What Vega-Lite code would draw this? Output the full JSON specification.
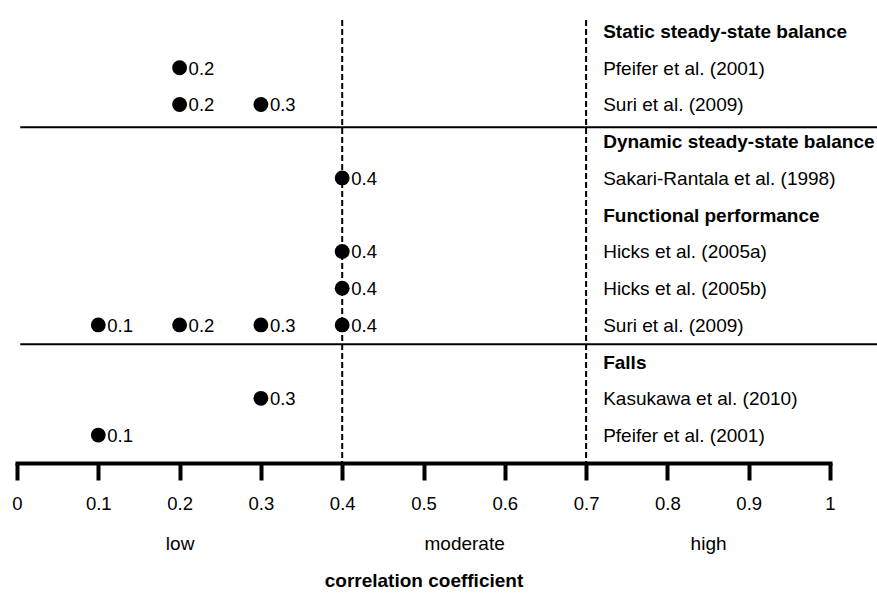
{
  "$schema": "https://vega.github.io/schema/vega-lite/v6.json",
  "width": 813,
  "height": 443,
  "autosize": {"type": "none"},
  "padding": {"left": 17, "top": 20, "right": 47, "bottom": 131},
  "background": "white",
  "config": {
    "view": {"stroke": null},
    "font": "Liberation Sans",
    "text": {"font": "Liberation Sans"}
  },
  "datasets": {
    "rows": [
      {"row": 1, "label": "Static steady-state balance", "kind": "header"},
      {"row": 2, "label": "Pfeifer et al. (2001)", "kind": "study"},
      {"row": 3, "label": "Suri et al. (2009)", "kind": "study"},
      {"row": 4, "label": "Dynamic steady-state balance", "kind": "header"},
      {"row": 5, "label": "Sakari-Rantala et al. (1998)", "kind": "study"},
      {"row": 6, "label": "Functional performance", "kind": "header"},
      {"row": 7, "label": "Hicks et al. (2005a)", "kind": "study"},
      {"row": 8, "label": "Hicks et al. (2005b)", "kind": "study"},
      {"row": 9, "label": "Suri et al. (2009)", "kind": "study"},
      {"row": 10, "label": "Falls", "kind": "header"},
      {"row": 11, "label": "Kasukawa et al. (2010)", "kind": "study"},
      {"row": 12, "label": "Pfeifer et al. (2001)", "kind": "study"}
    ],
    "points": [
      {"row": 2, "r": 0.2},
      {"row": 3, "r": 0.2},
      {"row": 3, "r": 0.3},
      {"row": 5, "r": 0.4},
      {"row": 7, "r": 0.4},
      {"row": 8, "r": 0.4},
      {"row": 9, "r": 0.1},
      {"row": 9, "r": 0.2},
      {"row": 9, "r": 0.3},
      {"row": 9, "r": 0.4},
      {"row": 11, "r": 0.3},
      {"row": 12, "r": 0.1}
    ],
    "cutoffs": [{"r": 0.4}, {"r": 0.7}],
    "separators": [{"row": 3.62}, {"row": 9.53}]
  },
  "resolve": {"axis": {"x": "independent"}},
  "layer": [
    {
      "data": {"name": "separators"},
      "mark": {"type": "rule", "color": "black", "strokeWidth": 2},
      "encoding": {
        "x": {"datum": 0.004, "type": "quantitative", "scale": {"domain": [0, 1], "nice": false, "zero": false}, "axis": null},
        "x2": {"datum": 1.06},
        "y": {"field": "row", "type": "quantitative", "scale": {"domain": [0.7, 12.76], "reverse": true, "nice": false, "zero": false}, "axis": null}
      }
    },
    {
      "data": {"name": "cutoffs"},
      "mark": {"type": "rule", "color": "black", "strokeWidth": 2, "strokeDash": [6, 3]},
      "encoding": {
        "x": {
          "field": "r",
          "type": "quantitative",
          "axis": {
            "orient": "bottom",
            "values": [0.2, 0.55, 0.85],
            "labelExpr": "datum.value < 0.3 ? 'low' : (datum.value < 0.7 ? 'moderate' : 'high')",
            "domain": false,
            "ticks": false,
            "tickSize": 0,
            "grid": false,
            "labelPadding": 71,
            "labelFontSize": 19,
            "labelColor": "black",
            "labelFont": "Liberation Sans",
            "labelOverlap": false,
            "labelFlush": false,
            "title": "correlation coefficient",
            "titleFont": "Liberation Sans",
            "titleFontSize": 19,
            "titleFontWeight": "bold",
            "titleColor": "black",
            "titlePadding": 18
          }
        }
      }
    },
    {
      "data": {"name": "points"},
      "mark": {"type": "circle", "color": "black", "opacity": 1, "size": 220},
      "encoding": {
        "x": {
          "field": "r",
          "type": "quantitative",
          "axis": {
            "orient": "bottom",
            "values": [0, 0.1, 0.2, 0.3, 0.4, 0.5, 0.6, 0.7, 0.8, 0.9, 1],
            "format": "~g",
            "grid": false,
            "domainColor": "black",
            "domainWidth": 4,
            "domainCap": "square",
            "tickColor": "black",
            "tickWidth": 4,
            "tickSize": 17,
            "labelPadding": 14,
            "labelFontSize": 18.5,
            "labelColor": "black",
            "labelFont": "Liberation Sans",
            "labelOverlap": false,
            "labelFlush": false,
            "title": null
          }
        },
        "y": {"field": "row", "type": "quantitative", "axis": null}
      }
    },
    {
      "data": {"name": "points"},
      "mark": {"type": "text", "align": "left", "baseline": "middle", "dx": 9, "dy": 1, "fontSize": 18.5, "color": "black"},
      "encoding": {
        "x": {"field": "r", "type": "quantitative", "axis": null},
        "y": {"field": "row", "type": "quantitative", "axis": null},
        "text": {"field": "r", "type": "quantitative", "format": "~g"}
      }
    },
    {
      "data": {"name": "rows"},
      "transform": [{"filter": "datum.kind === 'study'"}],
      "mark": {"type": "text", "align": "left", "baseline": "middle", "dy": 1, "fontSize": 19, "color": "black"},
      "encoding": {
        "x": {"datum": 0.721, "type": "quantitative", "axis": null},
        "y": {"field": "row", "type": "quantitative", "axis": null},
        "text": {"field": "label", "type": "nominal"}
      }
    },
    {
      "data": {"name": "rows"},
      "transform": [{"filter": "datum.kind === 'header'"}],
      "mark": {"type": "text", "align": "left", "baseline": "middle", "dy": 1, "fontSize": 19, "fontWeight": "bold", "color": "black"},
      "encoding": {
        "x": {"datum": 0.721, "type": "quantitative", "axis": null},
        "y": {"field": "row", "type": "quantitative", "axis": null},
        "text": {"field": "label", "type": "nominal"}
      }
    }
  ]
}
